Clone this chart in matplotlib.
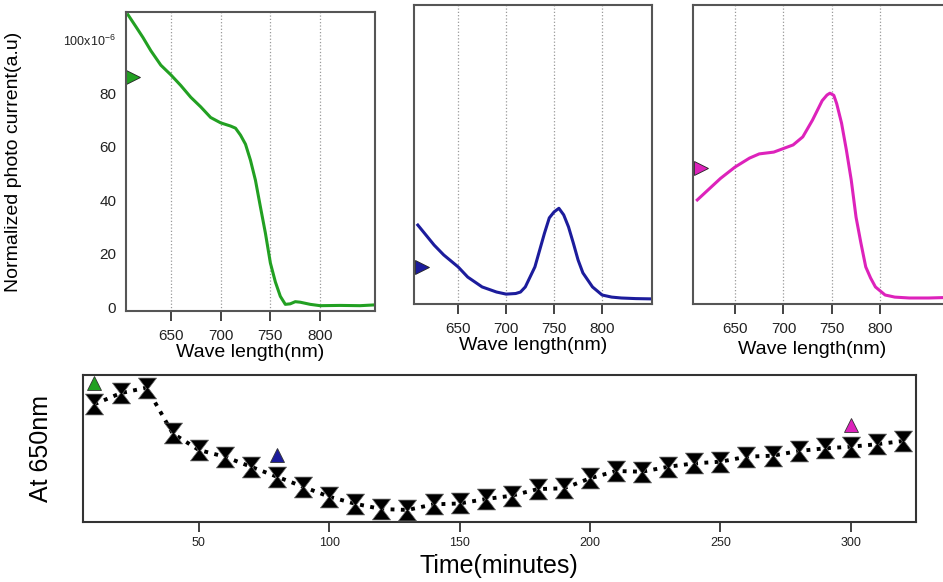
import matplotlib
matplotlib.use("Agg")
import matplotlib.pyplot as plt
from matplotlib.path import Path

plt.rcParams['font.family'] = ['Liberation Sans', 'DejaVu Sans']
plt.rcParams['mathtext.default'] = 'regular'

# spectra (wave length in nm, photo current)
green_wl = [607, 615, 622, 630, 640, 650, 660, 670, 680, 690, 700, 710, 715, 720, 725, 730,
            735, 740, 745, 750, 755, 760, 765, 770, 775, 780, 790, 800, 820, 840, 855]
green_val = [109.5, 105, 101, 96, 90.6, 87, 83, 78.6, 75, 71, 69, 67.8, 67, 64.4, 61, 55,
             47.5, 37.5, 27.7, 16.5, 9.4, 4, 1, 1.2, 2, 1.8, 1, 0.5, 0.6, 0.5, 0.8]

blue_wl = [608, 625, 635, 650, 660, 675, 690, 700, 710, 715, 720, 730, 740, 745, 750, 755,
           760, 765, 770, 775, 780, 790, 800, 810, 820, 835, 852]
blue_val = [26.4, 19.7, 16.4, 12.4, 9, 5.7, 4, 3.3, 3.5, 4, 5.7, 12.4, 23.7, 28.8, 30.8, 32,
            29.8, 25.8, 20.4, 14.7, 10.4, 5.7, 3, 2.3, 2, 1.8, 1.7]

pink_wl = [611, 620, 635, 650, 665, 675, 690, 700, 710, 720, 730, 740, 745, 748, 752, 755,
           760, 765, 770, 775, 780, 785, 790, 795, 805, 815, 830, 850, 872]
pink_val = [34.8, 37.5, 42, 45.8, 48.8, 50.2, 50.8, 52, 53.2, 55.9, 61.5, 68, 69.9, 70.5, 69.8,
            67, 60.5, 51.5, 41.5, 29, 20.4, 12.4, 8.7, 5.7, 3, 2.3, 2, 2, 2.2]

# arrow marks on the spectra
green_mark = 86
blue_mark = 12.4
pink_mark = 45.5

# time series at 650 nm
time_min = [10, 20, 30, 40, 50, 60, 70, 80, 90, 100, 110, 120, 130, 140, 150, 160, 170,
            180, 190, 200, 210, 220, 230, 240, 250, 260, 270, 280, 290, 300, 310, 320]
at650 = [80.1, 87.6, 91.4, 60.3, 49.0, 44.4, 37.6, 30.8, 24.0, 17.2, 12.4, 8.8, 8.2, 12.0,
         12.6, 15.6, 17.9, 22.4, 22.9, 29.7, 34.7, 34.2, 37.6, 39.9, 41.0, 44.4, 45.1, 48.3,
         50.1, 51.2, 52.9, 55.1]
tri_times = [10, 80, 300]
tri_vals = [94.3, 45.6, 66]

c_green = '#22a022'
c_blue = '#1c1c9c'
c_pink = '#dd22bb'
wl_ticks = [650, 700, 750, 800]

fig = plt.figure(figsize=(9.43, 5.82), dpi=100)

ax1 = fig.add_axes([0.1336, 0.4656, 0.264, 0.5137])
ax2 = fig.add_axes([0.439, 0.4777, 0.2524, 0.5137])
ax3 = fig.add_axes([0.7349, 0.4777, 0.2725, 0.5137])
ax4 = fig.add_axes([0.0877, 0.1031, 0.8837, 0.2526])


def style_spec(ax, xlim):
    ax.set_xlim(*xlim)
    ax.set_xticks(wl_ticks)
    ax.grid(axis='x', linestyle=':', color='#999999', linewidth=0.9)
    ax.set_axisbelow(True)
    for s in ax.spines.values():
        s.set_color('#555555')
        s.set_linewidth(1.5)
    ax.tick_params(axis='x', direction='out', length=7, width=1.2, pad=6,
                   labelsize=11, colors='#222222')
    ax.set_xlabel('Wave length(nm)', fontsize=14, labelpad=1)


style_spec(ax1, (605, 855))
ax1.plot(green_wl, green_val, color=c_green, lw=2.2)
ax1.set_ylim(-1.5, 110.5)
ax1.set_yticks([0, 20, 40, 60, 80, 100])
ax1.set_yticklabels(['0', '20', '40', '60', '80', r'100x10$^{-6}$'])
ax1.tick_params(axis='y', length=0, pad=7, labelsize=11, colors='#222222')
ax1.get_yticklabels()[-1].set_fontsize(9)
ax1.set_ylabel('Normalized photo current(a.u)', fontsize=14)
ax1.yaxis.set_label_coords(-0.418, 0.5)
ax1.plot([0.03], [green_mark], marker='>', ms=10, color=c_green, mec='#222222', mew=0.6,
         transform=ax1.get_yaxis_transform(), clip_on=False)

style_spec(ax2, (604, 852))
ax2.plot(blue_wl, blue_val, color=c_blue, lw=2.2)
ax2.set_ylim(0, 100)
ax2.set_yticks([])
ax2.plot([0.035], [blue_mark], marker='>', ms=10, color=c_blue, mec='#222222', mew=0.6,
         transform=ax2.get_yaxis_transform(), clip_on=False)

style_spec(ax3, (606.6, 872))
ax3.plot(pink_wl, pink_val, color=c_pink, lw=2.2)
ax3.set_ylim(0, 100)
ax3.set_yticks([])
ax3.xaxis.set_label_coords(0.463, -0.125)
ax3.plot([0.03], [pink_mark], marker='>', ms=10, color=c_pink, mec='#222222', mew=0.6,
         transform=ax3.get_yaxis_transform(), clip_on=False)

# hourglass marker
hourglass = Path([(-1, 1.15), (1, 1.15), (0.12, 0), (1, -1.15), (-1, -1.15), (-0.12, 0),
                  (-1, 1.15)],
                 [Path.MOVETO, Path.LINETO, Path.LINETO, Path.LINETO, Path.LINETO,
                  Path.LINETO, Path.CLOSEPOLY])

ax4.plot(time_min, at650, linestyle=':', color='black', lw=2.8, zorder=2)
ax4.plot(time_min, at650, linestyle='none', marker=hourglass, ms=15, color='black',
         mec='#666666', mew=0.5, zorder=3)
for t, v, c in zip(tri_times, tri_vals, [c_green, c_blue, c_pink]):
    ax4.plot([t], [v], marker='^', ms=10, color=c, mec='#333333', mew=0.6, zorder=4)
ax4.set_xlim(5.5, 325)
ax4.set_ylim(0, 100)
ax4.set_yticks([])
ax4.set_xticks([50, 100, 150, 200, 250, 300])
ax4.tick_params(axis='x', direction='out', length=7, width=1.2, pad=4,
                labelsize=9, colors='#222222')
for s in ax4.spines.values():
    s.set_color('#333333')
    s.set_linewidth(1.5)
ax4.set_xlabel('Time(minutes)', fontsize=18)
ax4.xaxis.label.set_va('center')
ax4.xaxis.set_label_coords(0.5, -0.3)
ax4.set_ylabel('At 650nm', fontsize=18)
ax4.yaxis.label.set_va('center')
ax4.yaxis.set_label_coords(-0.05, 0.5)

fig.savefig('out.png', dpi=100)
